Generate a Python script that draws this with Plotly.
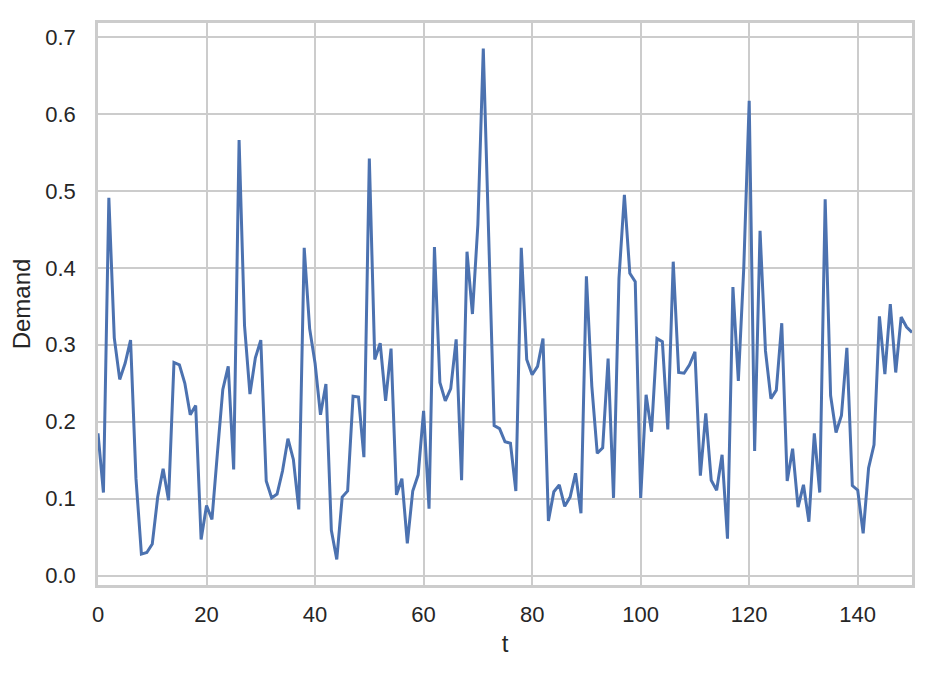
import plotly.graph_objects as go

t = list(range(151))
demand = [
    0.185, 0.108, 0.491, 0.309, 0.255, 0.276, 0.306, 0.126, 0.028, 0.030,
    0.041, 0.102, 0.139, 0.098, 0.277, 0.274, 0.250, 0.209, 0.221, 0.047,
    0.091, 0.073, 0.159, 0.242, 0.272, 0.138, 0.566, 0.325, 0.236, 0.283,
    0.306, 0.123, 0.101, 0.106, 0.136, 0.178, 0.151, 0.086, 0.426, 0.321,
    0.276, 0.209, 0.249, 0.059, 0.021, 0.102, 0.110, 0.233, 0.232, 0.154,
    0.542, 0.281, 0.302, 0.227, 0.295, 0.105, 0.126, 0.042, 0.110, 0.131,
    0.214, 0.087, 0.427, 0.251, 0.227, 0.243, 0.307, 0.124, 0.421, 0.340,
    0.456, 0.685, 0.440, 0.195, 0.191, 0.174, 0.172, 0.110, 0.426, 0.281,
    0.261, 0.272, 0.308, 0.071, 0.109, 0.118, 0.090, 0.102, 0.133, 0.081,
    0.389, 0.246, 0.159, 0.166, 0.282, 0.101, 0.386, 0.495, 0.393, 0.382,
    0.101, 0.235, 0.187, 0.308, 0.304, 0.190, 0.408, 0.264, 0.263, 0.274,
    0.291, 0.130, 0.211, 0.124, 0.111, 0.157, 0.048, 0.375, 0.253, 0.400,
    0.617, 0.162, 0.448, 0.292, 0.230, 0.241, 0.328, 0.123, 0.165, 0.089,
    0.118, 0.070, 0.185, 0.108, 0.489, 0.234, 0.186, 0.208, 0.296, 0.117,
    0.111, 0.055, 0.140, 0.170, 0.337, 0.262, 0.353, 0.264, 0.336, 0.323,
    0.316,
]

x_ticks = [0, 20, 40, 60, 80, 100, 120, 140]
y_ticks = [0.0, 0.1, 0.2, 0.3, 0.4, 0.5, 0.6, 0.7]
y_tick_labels = ["0.0", "0.1", "0.2", "0.3", "0.4", "0.5", "0.6", "0.7"]

fig = go.Figure()
fig.add_trace(go.Scatter(
    x=t, y=demand, mode="lines",
    line=dict(color="#4c72b0", width=3),
    showlegend=False,
))

font = dict(family="Liberation Sans, Arial, sans-serif", color="#262626")
axis_common = dict(
    showgrid=True, gridcolor="#cccccc", gridwidth=2,
    showline=True, linecolor="#cccccc", linewidth=2.5, mirror=True,
    zeroline=False,
    ticks="outside", tickcolor="rgba(0,0,0,0)",
    tickfont=dict(size=22, **font),
)

ymin = min(demand); ymax = max(demand)
pad = (ymax - ymin) * 0.05

fig.update_layout(
    width=932, height=673,
    margin=dict(l=90, r=28, t=12, b=96),
    paper_bgcolor="white", plot_bgcolor="white",
    font=font,
    xaxis=dict(
        range=[0, 150], tickvals=x_ticks, ticklen=8,
        title=dict(text="t", font=dict(size=24, **font), standoff=10),
        **axis_common,
    ),
    yaxis=dict(
        range=[ymin - pad, ymax + pad], tickvals=y_ticks, ticktext=y_tick_labels,
        ticklen=15,
        title=dict(text="Demand", font=dict(size=24, **font), standoff=8),
        **axis_common,
    ),
)

fig.write_html("out.html")
